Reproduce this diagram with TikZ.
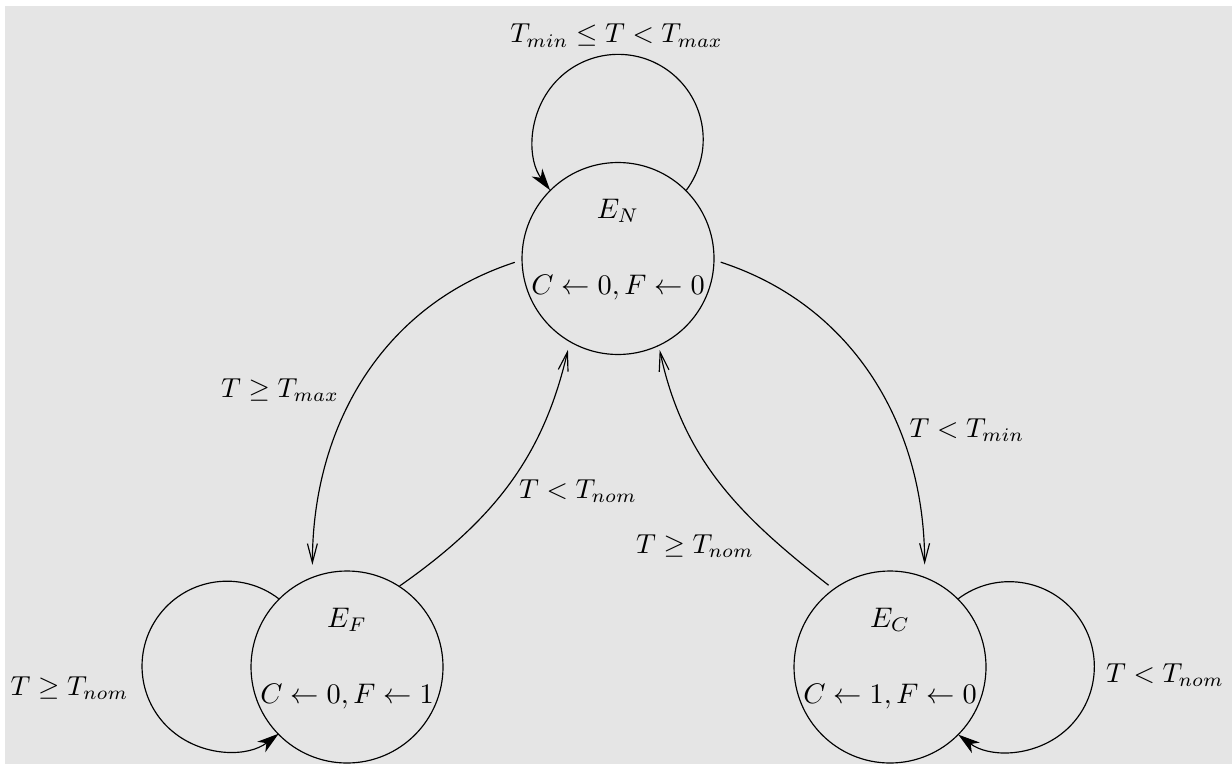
\documentclass[tikz,border=0pt]{standalone}
\usetikzlibrary{arrows.meta}
\begin{document}
\begin{tikzpicture}[x=0.34247pt,y=0.34247pt,
  state/.style={circle,draw,line width=0.4pt,minimum size=65.75pt,inner sep=0pt},
  txt/.style={anchor=base,inner sep=0pt,outer sep=0pt,scale=0.97},
  lab/.style={anchor=base,inner sep=0pt,outer sep=0pt,scale=0.94},
  tr/.style={draw,line width=0.4pt,-{Straight Barb[length=6.5pt,width=3.4pt]}},
  lp/.style={draw,line width=0.4pt,-{Stealth[length=7.5pt,width=4.5pt,inset=2.2pt]}}]
\useasboundingbox (0,0) rectangle (1232,764);
\fill[gray!20] (5,0) rectangle (1232,758);
% states
\node[state] (N) at (618,505.5) {};
\node[state] (F) at (347,97) {};
\node[state] (C) at (890,97) {};
\node[txt] (Nt) at (618,545.5) {$E_N$};
\node[txt] (Nb) at (618,469.5) {$C\leftarrow 0, F\leftarrow 0$};
\node[txt] (Ft) at (347,137) {$E_F$};
\node[txt] (Fb) at (347,61) {$C\leftarrow 0, F\leftarrow 1$};
\node[txt] (Ct) at (890,137) {$E_C$};
\node[txt] (Cb) at (890,61) {$C\leftarrow 1, F\leftarrow 0$};
% loops
\draw[lp] (N.45) arc[start angle=-36.75, end angle=216.75, radius=29.11pt];
\draw[lp] (F.135) arc[start angle=52.55, end angle=307.45, radius=29.11pt];
\draw[lp] (C.45) arc[start angle=126.9, end angle=-126.9, radius=29.11pt];
% transitions
\draw[tr, shorten <=2.4pt, shorten >=4.1pt] (N.181) to[out=198,in=90] (F.111);
\draw[tr, shorten >=2.7pt] (F.57) to[out=35,in=257] (N.240);
\draw[tr, shorten <=2.2pt, shorten >=4.2pt] (N.-1) to[out=-18,in=90] (C.69);
\draw[tr, shorten <=2pt, shorten >=1.4pt] (C.126) to[out=142,in=282] (N.295);
% labels
\node[lab] (lN) at (616.5,721) {$T_{min}\leq T<T_{max}$};
\node[lab] (lNF) at (280,367) {$T\geq T_{max}$};
\node[lab] (lFN) at (578,266) {$T<T_{nom}$};
\node[lab] (lNC) at (967,327) {$T<T_{min}$};
\node[lab] (lCN) at (695,211) {$T\geq T_{nom}$};
\node[lab] (lF) at (69.5,69) {$T\geq T_{nom}$};
\node[lab] (lC) at (1165,82) {$T<T_{nom}$};
\end{tikzpicture}
\end{document}
